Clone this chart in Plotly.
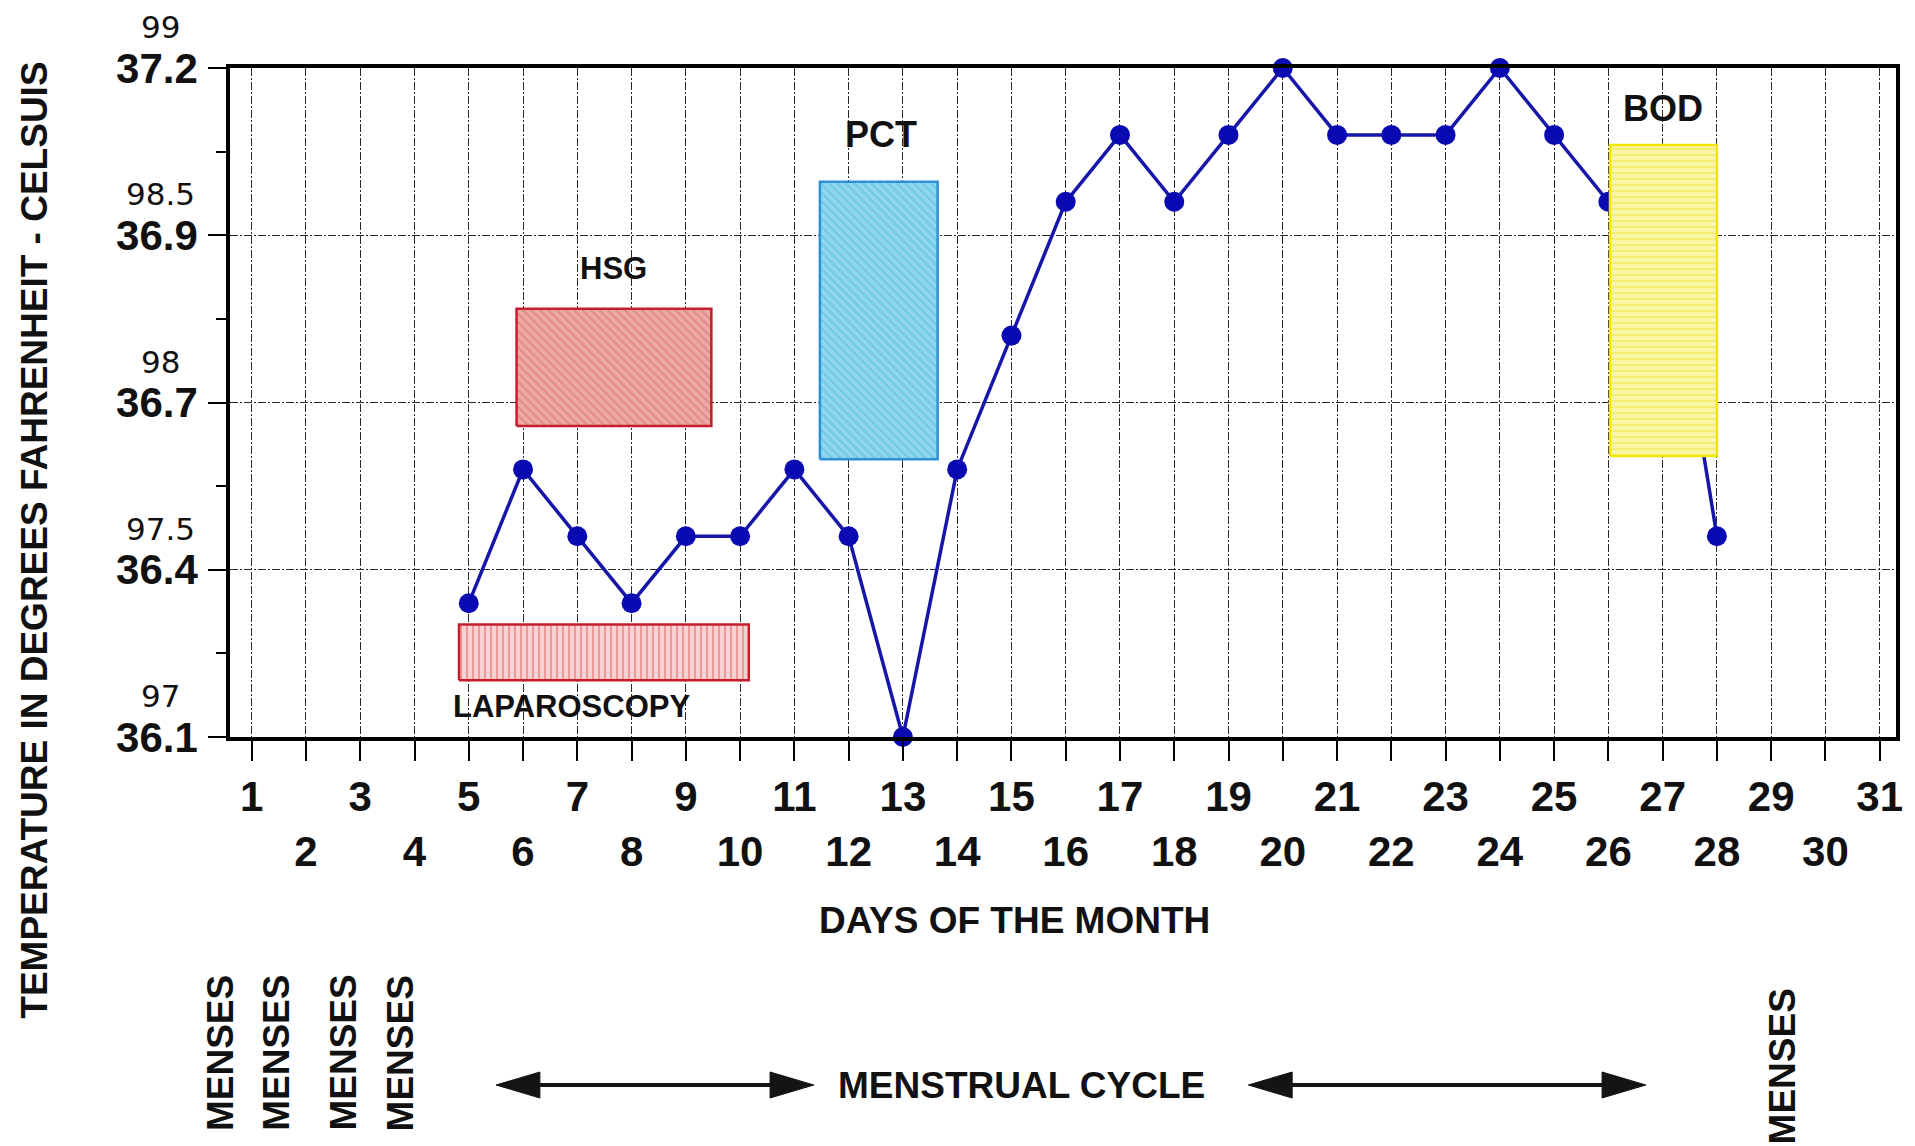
import plotly.graph_objects as go

# ---------------- data ----------------
days = list(range(5, 29))
temps_f = [97.4, 97.8, 97.6, 97.4, 97.6, 97.6, 97.8, 97.6, 97.0, 97.8, 98.2, 98.6,
           98.8, 98.6, 98.8, 99.0, 98.8, 98.8, 98.8, 99.0, 98.8, 98.6, 98.6, 97.6]

x_ticks = list(range(1, 32))
y_ticks_f = [97, 97.5, 98, 98.5, 99]
y_ticks_c = ["36.1", "36.4", "36.7", "36.9", "37.2"]
y_ticks_f_text = ["97", "97.5", "98", "98.5", "99"]
y_minor_f = [97.25, 97.75, 98.25, 98.75]

event_names = ["HSG", "LAPAROSCOPY", "PCT", "BOD"]
event_x0 = [5.88, 4.82, 11.47, 26.03]
event_x1 = [9.47, 10.16, 13.64, 28.0]
event_y0 = [97.93, 97.17, 97.83, 97.84]
event_y1 = [98.28, 97.336, 98.66, 98.77]
event_label_x = [7.67, 6.89, 12.6, 27.0]
event_label_y = [98.40, 97.09, 98.80, 98.88]
event_label_size = [31, 31, 36, 36]

event_bg = ["#EEA8A4", "#F8D2D2", "#8FD8EF", "#FAF6A6"]
event_fg = ["#D46A68", "#E0605E", "#4FB8DA", "#EDE548"]
event_edge = ["#C41E2E", "#C41E2E", "#2E8FD6", "#F0E600"]
event_pattern = ["\\", "|", "\\", "-"]

# ---------------- layout geometry (page pixels) ----------------
OFF = 8                      # default page margin of the html body
W_FIG, H_FIG = 1915 - OFF, 1146 - OFF
L, R, T, B = 230, 1902, 68, 737
PW, PH = R - L, B - T


def px_x(p):
    return (p - L) / PW


def px_y(p):
    return (B - p) / PH


FONT = "Liberation Sans, Arial, Helvetica, sans-serif"
INK = "#111111"

fig = go.Figure()

# temperature line
fig.add_trace(go.Scatter(
    x=days, y=temps_f, mode="lines+markers",
    line=dict(color="#1616A8", width=3.5),
    marker=dict(color="#0A0AB2", size=20),
    cliponaxis=False, showlegend=False, hoverinfo="x+y",
))

# event boxes drawn above the line
for i, name in enumerate(event_names):
    x0, x1, y0, y1 = event_x0[i], event_x1[i], event_y0[i], event_y1[i]
    fig.add_trace(go.Scatter(
        x=[x0, x1, x1, x0, x0], y=[y0, y0, y1, y1, y0],
        mode="lines", fill="toself",
        fillcolor=event_bg[i],
        fillpattern=dict(shape=event_pattern[i], bgcolor=event_bg[i],
                         fgcolor=event_fg[i], size=6, solidity=0.35),
        line=dict(color=event_edge[i], width=2.5),
        showlegend=False, hoverinfo="skip", name=name,
    ))
    fig.add_annotation(x=event_label_x[i], y=event_label_y[i], text=name,
                       showarrow=False, xref="x", yref="y",
                       xanchor="center", yanchor="middle",
                       font=dict(family=FONT, size=event_label_size[i],
                                 color=INK, weight="bold"))

# handwritten fahrenheit labels above the celsius ticks
for v, t in zip(y_ticks_f, y_ticks_f_text):
    fig.add_annotation(x=px_x(160), y=v, xref="paper", yref="y", text=t,
                       showarrow=False, yshift=41, xanchor="center", yanchor="middle",
                       font=dict(family="DejaVu Sans, sans-serif", size=31, color=INK))


def text_at(x, y, text, angle=0, size=37):
    fig.add_annotation(x=px_x(x), y=px_y(y), xref="paper", yref="paper",
                       text=text, textangle=angle, showarrow=False,
                       xanchor="center", yanchor="middle",
                       font=dict(family=FONT, size=size, color=INK, weight="bold"))


# axis titles
text_at(33, 540, "TEMPERATURE IN DEGREES FAHRENHEIT - CELSUIS", angle=-90)
text_at(1017, 920, "DAYS OF THE MONTH")

# menses labels
menses_px = [(220, 1053), (276, 1053), (343, 1053), (401, 1053), (1788, 1066)]
for mx, my in menses_px:
    text_at(mx, my, "MENSES", angle=-90)

text_at(1024, 1085, "MENSTRUAL CYCLE")

# double arrows
shapes = []
arrow_y = 1085
for a0, a1 in [(497, 816), (1252, 1651)]:
    head_len, half_h = 44, 13
    shapes.append(dict(type="line", xref="paper", yref="paper",
                       x0=px_x(a0 + 20), x1=px_x(a1 - 20),
                       y0=px_y(arrow_y), y1=px_y(arrow_y),
                       line=dict(color="#141414", width=4)))
    for tip, base in [(a0, a0 + head_len), (a1, a1 - head_len)]:
        path = (f"M {px_x(tip)},{px_y(arrow_y)} "
                f"L {px_x(base)},{px_y(arrow_y - half_h)} "
                f"L {px_x(base)},{px_y(arrow_y + half_h)} Z")
        shapes.append(dict(type="path", xref="paper", yref="paper", path=path,
                           fillcolor="#141414", line=dict(color="#141414", width=1)))

x_ticktext = [str(d) if d % 2 == 1 else "<br>" + str(d) for d in x_ticks]

GRID = dict(showgrid=True, gridcolor="#2A2A2A", gridwidth=1, griddash="8px,2px,2px,2px")

fig.update_layout(
    width=W_FIG, height=H_FIG,
    margin=dict(l=L - OFF, r=W_FIG - (R - OFF), t=T - OFF, b=H_FIG - (B - OFF), pad=0),
    paper_bgcolor="white", plot_bgcolor="white",
    shapes=shapes,
    font=dict(family=FONT, color=INK),
    xaxis=dict(
        range=[0.6, 31.3], tickmode="array", tickvals=x_ticks, ticktext=x_ticktext,
        showline=True, linecolor="black", linewidth=3.5, mirror=True,
        ticks="outside", ticklen=20, tickwidth=2, tickcolor="black",
        ticklabelstandoff=0,
        tickfont=dict(family=FONT, size=42, color=INK, weight="bold"),
        zeroline=False, fixedrange=True, **GRID,
    ),
    yaxis=dict(
        range=[97, 99], tickmode="array", tickvals=y_ticks_f, ticktext=y_ticks_c,
        showline=True, linecolor="black", linewidth=3.5, mirror=True,
        ticks="outside", ticklen=18, tickwidth=2, tickcolor="black",
        ticklabelstandoff=2,
        tickfont=dict(family=FONT, size=42, color=INK, weight="bold"),
        minor=dict(tickvals=y_minor_f, ticks="outside", ticklen=10, tickwidth=2,
                   tickcolor="black", showgrid=False),
        zeroline=False, fixedrange=True, **GRID,
    ),
)

fig.write_html("out.html")
